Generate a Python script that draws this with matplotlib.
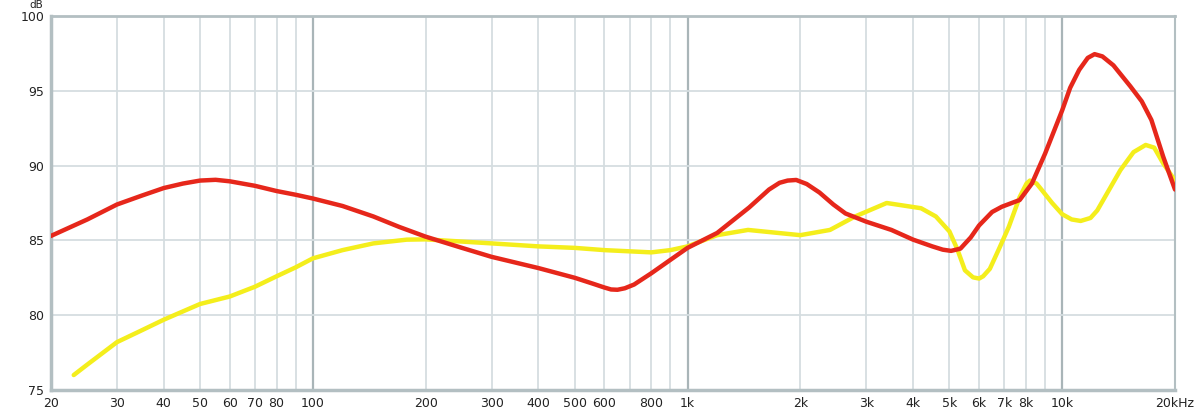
import numpy as np
import matplotlib.pyplot as plt
from matplotlib.ticker import FixedLocator, NullLocator

# Red curve (frequency in Hz, level in dB)
red_freq = [20, 25, 30, 35, 40, 45, 50, 55, 60, 70, 80, 90, 100, 120, 145, 170,
            200, 250, 300, 400, 500, 560, 600, 625, 650, 680, 720, 800, 900,
            1000, 1200, 1460, 1650, 1760, 1850, 1950, 2080, 2250, 2450, 2640,
            3000, 3500, 4000, 4500, 4800, 5050, 5350, 5700, 6000, 6500, 6900,
            7700, 8300, 9000, 10000, 10500, 11100, 11700, 12200, 12800, 13700,
            15200, 16300, 17300, 18600, 20000]
red_db = [85.3, 86.4, 87.4, 88.0, 88.5, 88.8, 89.0, 89.05, 88.95, 88.65, 88.3,
          88.05, 87.8, 87.3, 86.6, 85.9, 85.25, 84.5, 83.9, 83.15, 82.5, 82.1,
          81.85, 81.72, 81.7, 81.8, 82.05, 82.8, 83.7, 84.5, 85.5, 87.2, 88.4,
          88.85, 89.0, 89.04, 88.77, 88.2, 87.4, 86.8, 86.25, 85.7, 85.05,
          84.6, 84.38, 84.3, 84.45, 85.2, 86.0, 86.9, 87.25, 87.7, 88.8, 90.8,
          93.7, 95.2, 96.4, 97.2, 97.45, 97.3, 96.7, 95.3, 94.3, 93.05, 90.6,
          88.4]

# Yellow curve
yel_freq = [23, 25, 30, 35, 40, 50, 60, 70, 80, 90, 100, 120, 145, 178, 200,
            300, 400, 500, 600, 800, 900, 1000, 1200, 1450, 2000, 2400, 2800,
            3400, 4200, 4600, 5000, 5250, 5500, 5780, 6000, 6150, 6410, 6800,
            7200, 7700, 8030, 8200, 8540, 8800, 9400, 10000, 10600, 11200,
            11900, 12400, 14300, 15500, 16700, 17600, 18600, 20000]
yel_db = [76.0, 76.7, 78.2, 79.0, 79.7, 80.75, 81.25, 81.9, 82.6, 83.2, 83.8,
          84.35, 84.8, 85.05, 85.07, 84.8, 84.6, 84.5, 84.35, 84.2, 84.35, 84.6,
          85.35, 85.7, 85.35, 85.7, 86.6, 87.5, 87.15, 86.6, 85.6, 84.4, 83.0,
          82.53, 82.45, 82.6, 83.1, 84.5, 85.9, 87.9, 88.8, 89.0, 88.8, 88.4,
          87.5, 86.75, 86.4, 86.3, 86.5, 87.0, 89.7, 90.9, 91.38, 91.2, 90.15,
          89.0]

# Axis ticks
x_labeled = [20, 30, 40, 50, 60, 70, 80, 100, 200, 300, 400, 500, 600, 800,
             1000, 2000, 3000, 4000, 5000, 6000, 7000, 8000, 10000, 20000]
x_labels = ['20', '30', '40', '50', '60', '70', '80', '100', '200', '300', '400',
            '500', '600', '800', '1k', '2k', '3k', '4k', '5k', '6k', '7k', '8k',
            '10k', '20kHz']
y_ticks = [75, 80, 85, 90, 95, 100]

minor_grid = [m * d for d in (10, 100, 1000, 10000) for m in range(2, 10)
              if 20 < m * d < 20000 and m * d not in (100, 1000, 10000)]
major_grid = [100, 1000, 10000]

fig = plt.figure(figsize=(12, 4.13), dpi=100)
ax = fig.add_axes([51 / 1200, 23 / 413, 1124 / 1200, 374 / 413])

for f in minor_grid:
    ax.axvline(f, color='#d5dde0', lw=1.3, zorder=1)
for f in major_grid:
    ax.axvline(f, color='#a9b5b8', lw=1.6, zorder=1)
for y in [80, 85, 90, 95]:
    ax.axhline(y, color='#d5dde0', lw=1.3, zorder=1)

ax.plot(yel_freq, yel_db, color='#f4ee1c', lw=3.2, solid_capstyle='round',
        solid_joinstyle='round', zorder=3)
ax.plot(red_freq, red_db, color='#e6271b', lw=3.2, solid_capstyle='round',
        solid_joinstyle='round', zorder=4)

ax.set_xscale('log')
ax.set_xlim(20, 20000)
ax.set_ylim(75, 100)

ax.xaxis.set_major_locator(FixedLocator(x_labeled))
ax.xaxis.set_minor_locator(NullLocator())
ax.set_xticklabels(x_labels)
ax.set_yticks(y_ticks)
ax.tick_params(length=0, labelsize=9, colors='#222222', pad=5)
ax.tick_params(axis='x', pad=5)
for lbl in ax.get_yticklabels():
    lbl.set_verticalalignment('center_baseline')

for side, w in [('left', 2.5), ('bottom', 2.5), ('top', 2.0), ('right', 1.5)]:
    ax.spines[side].set_color('#b3bfc2')
    ax.spines[side].set_linewidth(w)

fig.text(36 / 1200, 1.0, 'dB', ha='center', va='top',
         fontsize=7.5, color='#222222')

fig.savefig('out.png', dpi=100, facecolor='white')
